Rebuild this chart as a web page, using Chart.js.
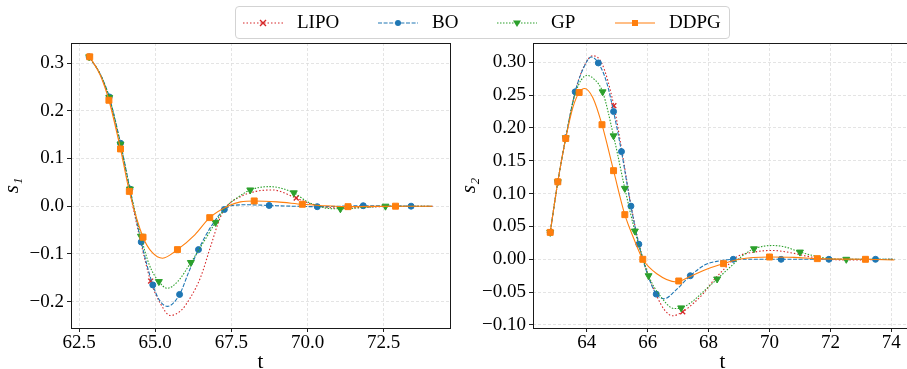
<!DOCTYPE html>
<html><head><meta charset="utf-8">
<script src="https://cdn.jsdelivr.net/npm/chart.js@4/dist/chart.umd.min.js"></script>
<style>
html,body{margin:0;padding:0;background:#fff;overflow:hidden;width:907px;height:369px;position:relative}
canvas{position:absolute;top:0}
#c1{left:0}
#c2{left:457px}
#legend{position:absolute;left:235px;top:6px;width:493px;height:31px;border:1px solid #d3d3d3;border-radius:4px;background:rgba(255,255,255,0.85);font-family:'Liberation Serif',serif;font-size:19px;color:#000;z-index:2}
#legend svg{position:absolute;top:9px}
#legend span{position:absolute;top:4px;line-height:22px}
</style></head>
<body>
<canvas id="c1" width="455" height="375"></canvas>
<canvas id="c2" width="460" height="375"></canvas>
<div id="legend">
  <svg style="left:7px" width="40" height="14"><line x1="0" y1="7" x2="40" y2="7" stroke="#d62728" stroke-width="1.2" stroke-dasharray="1.5 2"/><path d="M17 4 L23 10 M23 4 L17 10" stroke="#d62728" stroke-width="1.4"/></svg>
  <span style="left:61px">LIPO</span>
  <svg style="left:142px" width="40" height="14"><line x1="0" y1="7" x2="40" y2="7" stroke="#1f77b4" stroke-width="1.1" stroke-dasharray="4 1.6"/><circle cx="20" cy="7" r="3" fill="#1f77b4"/></svg>
  <span style="left:196px">BO</span>
  <svg style="left:261px" width="40" height="14"><line x1="0" y1="7" x2="40" y2="7" stroke="#2ca02c" stroke-width="1.1" stroke-dasharray="1.5 1.5"/><path d="M16 4.5 L24 4.5 L20 11 Z" fill="#2ca02c"/></svg>
  <span style="left:315px">GP</span>
  <svg style="left:379px" width="40" height="14"><line x1="0" y1="7" x2="40" y2="7" stroke="#ff7f0e" stroke-width="1.1"/><rect x="17" y="4" width="6" height="6" fill="#ff7f0e"/></svg>
  <span style="left:433px">DDPG</span>
</div>
<script>
// ---------- tick labels ----------
const s1XTicks = [62.5, 65.0, 67.5, 70.0, 72.5];
const s1YTicks = [-0.2, -0.1, 0.0, 0.1, 0.2, 0.3];
const s2XTicks = [64, 66, 68, 70, 72, 74];
const s2YTicks = [-0.10, -0.05, 0.00, 0.05, 0.10, 0.15, 0.20, 0.25, 0.30];
const seriesNames = ['LIPO', 'BO', 'GP', 'DDPG'];

// ---------- s1 (left panel) ----------
const s1LipoT = [62.83, 63.2, 63.48, 63.86, 64.15, 64.5, 64.85, 65.18, 65.49, 65.84, 66.16, 66.49, 66.81, 67.14, 67.35, 67.8, 68.3, 68.85, 69.63, 70.1, 70.6, 71.2, 72.0, 73.0, 74.1];
const s1LipoV = [0.313, 0.276, 0.226, 0.128, 0.035, -0.068, -0.157, -0.205, -0.229, -0.219, -0.191, -0.149, -0.086, -0.023, 0.0, 0.02, 0.031, 0.034, 0.017, 0.005, -0.002, -0.004, -0.002, 0, 0];
const s1LipoMarkT = [62.83, 64.85, 69.63];
const s1LipoMarkV = [0.313, -0.157, 0.017];

const s1BoT = [62.83, 63.2, 63.49, 63.86, 64.17, 64.54, 64.92, 65.15, 65.4, 65.8, 66.1, 66.42, 66.82, 67.27, 67.6, 68.0, 68.74, 69.5, 70.32, 71.83, 73.4, 74.1];
const s1BoV = [0.313, 0.276, 0.229, 0.132, 0.036, -0.075, -0.165, -0.198, -0.21, -0.185, -0.138, -0.091, -0.044, -0.007, 0.002, 0.003, 0.0015, 0.0, -0.001, 0.001, 0, 0];
const s1BoMarkT = [62.83, 63.49, 63.86, 64.17, 64.54, 64.92, 65.8, 66.42, 67.27, 68.74, 70.32, 71.83, 73.4];
const s1BoMarkV = [0.313, 0.229, 0.132, 0.036, -0.075, -0.165, -0.185, -0.091, -0.007, 0.0015, -0.001, 0.001, 0];

const s1GpT = [62.83, 63.2, 63.49, 63.86, 64.17, 64.53, 64.8, 65.12, 65.4, 65.75, 66.17, 66.6, 66.98, 67.35, 67.7, 68.12, 68.76, 69.55, 70.0, 70.3, 70.6, 71.08, 71.8, 72.56, 74.1];
const s1GpV = [0.313, 0.276, 0.228, 0.13, 0.036, -0.063, -0.122, -0.158, -0.172, -0.157, -0.118, -0.074, -0.034, 0.0, 0.018, 0.034, 0.041, 0.028, 0.009, 0.002, -0.004, -0.0055, -0.003, 0, 0];
const s1GpMarkT = [62.83, 63.49, 63.86, 64.17, 64.53, 65.12, 66.17, 66.98, 68.12, 69.55, 71.08, 72.56];
const s1GpMarkV = [0.313, 0.228, 0.13, 0.036, -0.063, -0.158, -0.118, -0.034, 0.034, 0.028, -0.0055, 0];

const s1DdpgT = [62.85, 63.2, 63.48, 63.86, 64.15, 64.6, 64.9, 65.24, 65.73, 66.3, 66.79, 67.45, 67.8, 68.25, 69.0, 69.83, 70.5, 71.33, 72.89, 74.1];
const s1DdpgV = [0.313, 0.274, 0.222, 0.12, 0.031, -0.065, -0.097, -0.109, -0.091, -0.06, -0.024, 0.002, 0.009, 0.011, 0.009, 0.004, 0.001, -0.001, 0, 0];
const s1DdpgMarkT = [62.85, 63.48, 63.86, 64.15, 64.6, 65.73, 66.79, 68.25, 69.83, 71.33, 72.89];
const s1DdpgMarkV = [0.313, 0.222, 0.12, 0.031, -0.065, -0.091, -0.024, 0.011, 0.004, -0.001, 0];

// ---------- s2 (right panel) ----------
const s2LipoT = [62.8, 63.05, 63.31, 63.62, 63.9, 64.2, 64.5, 64.89, 65.15, 65.45, 65.72, 66.0, 66.3, 66.55, 66.82, 67.15, 67.5, 67.81, 68.2, 68.57, 68.9, 69.5, 70.1, 70.7, 71.2, 71.7, 72.5, 74.1];
const s2LipoV = [0.041, 0.118, 0.185, 0.255, 0.293, 0.31, 0.298, 0.234, 0.166, 0.083, 0.022, -0.022, -0.056, -0.077, -0.086, -0.080, -0.067, -0.053, -0.03, -0.012, 0.003, 0.011, 0.0135, 0.01, 0.005, 0.001, -0.001, 0];
const s2LipoMarkT = [62.8, 64.89, 67.15];
const s2LipoMarkV = [0.041, 0.234, -0.080];

const s2BoT = [62.8, 63.05, 63.31, 63.62, 63.9, 64.15, 64.38, 64.65, 64.88, 65.14, 65.45, 65.71, 65.84, 66.05, 66.28, 66.55, 66.9, 67.4, 67.9, 68.35, 68.81, 70.38, 71.95, 73.48, 74.1];
const s2BoV = [0.041, 0.118, 0.185, 0.255, 0.292, 0.308, 0.299, 0.27, 0.225, 0.164, 0.081, 0.023, 0.0, -0.03, -0.053, -0.060, -0.048, -0.025, -0.008, -0.0025, 0, 0, 0, 0, 0];
const s2BoMarkT = [62.8, 63.05, 63.31, 63.62, 64.38, 64.88, 65.14, 65.45, 65.71, 66.28, 67.40, 68.81, 70.38, 71.95, 73.48];
const s2BoMarkV = [0.041, 0.118, 0.185, 0.255, 0.299, 0.225, 0.164, 0.081, 0.023, -0.053, -0.025, 0, 0, 0, 0];

const s2GpT = [62.8, 63.05, 63.31, 63.62, 64.01, 64.25, 64.52, 64.88, 65.25, 65.58, 65.84, 66.03, 66.4, 66.88, 67.10, 67.5, 67.81, 68.28, 68.8, 69.1, 69.49, 70.1, 70.5, 71.0, 71.6, 72.0, 72.52, 74.1];
const s2GpV = [0.041, 0.118, 0.185, 0.252, 0.280, 0.274, 0.255, 0.188, 0.108, 0.043, 0.002, -0.025, -0.055, -0.075, -0.074, -0.063, -0.05, -0.030, -0.008, 0.005, 0.016, 0.021, 0.019, 0.011, 0.004, 0.001, 0, 0];
const s2GpMarkT = [62.8, 63.05, 63.31, 64.52, 64.88, 65.25, 65.58, 66.03, 67.10, 68.28, 69.49, 71.0, 72.52];
const s2GpMarkV = [0.041, 0.118, 0.185, 0.255, 0.188, 0.108, 0.043, -0.025, -0.074, -0.030, 0.016, 0.011, 0];

const s2DdpgT = [62.8, 63.05, 63.31, 63.55, 63.75, 63.93, 64.2, 64.5, 64.88, 65.25, 65.55, 65.84, 66.3, 66.94, 67.4, 68.0, 68.49, 69.0, 70.0, 70.8, 71.57, 73.15, 74.1];
const s2DdpgV = [0.041, 0.118, 0.184, 0.232, 0.254, 0.260, 0.246, 0.205, 0.135, 0.068, 0.031, 0.0, -0.022, -0.0345, -0.026, -0.014, -0.0066, 0.0, 0.0035, 0.003, 0.001, 0, -0.001];
const s2DdpgMarkT = [62.8, 63.05, 63.31, 63.75, 64.5, 64.88, 65.25, 65.84, 67.02, 68.49, 70.0, 71.57, 73.15];
const s2DdpgMarkV = [0.041, 0.118, 0.184, 0.254, 0.205, 0.135, 0.068, 0.0, -0.033, -0.0066, 0.0035, 0.001, 0];

// ---------- styling ----------
const FONT = "'Liberation Serif', 'DejaVu Serif', serif";
const styles = [
  {color: '#d62728', dash: [1.5, 2], point: 'crossRot', radius: 3.5, rot: 0, bw: 1.4},
  {color: '#1f77b4', dash: [4, 1.6], point: 'circle', radius: 3, rot: 0, bw: 1},
  {color: '#2ca02c', dash: [1.5, 1.5], point: 'triangle', radius: 4, rot: 180, bw: 1},
  {color: '#ff7f0e', dash: [], point: 'rect', radius: 4.2, rot: 0, bw: 1}
];

function pts(t, v) { return t.map((x, i) => ({x: x, y: v[i]})); }
function fmt(v, d) { const s = Math.abs(v).toFixed(d); return (v < -1e-9 ? '\u2212' : '') + s; }

function datasets(curves, marks) {
  const out = [];
  curves.forEach((c, i) => {
    const st = styles[i];
    out.push({
      label: seriesNames[i], data: pts(c[0], c[1]), showLine: true,
      borderColor: st.color, borderWidth: 1.1, borderDash: st.dash,
      pointRadius: 0, tension: 0.4, cubicInterpolationMode: 'monotone', fill: false,
      order: (3 - i) * 2 + 1
    });
    out.push({
      label: seriesNames[i] + ' markers', data: pts(marks[i][0], marks[i][1]), showLine: false,
      pointStyle: st.point, pointRadius: st.radius, pointRotation: st.rot,
      backgroundColor: st.color, borderColor: st.color, borderWidth: st.bw,
      order: (3 - i) * 2
    });
  });
  return out;
}

const framePlugin = {
  id: 'frame',
  afterDraw(chart) {
    const {ctx, chartArea: a} = chart;
    ctx.save();
    ctx.strokeStyle = '#1a1a1a';
    ctx.lineWidth = 1;
    ctx.strokeRect(Math.round(a.left) + 0.5, Math.round(a.top) + 0.5, Math.round(a.right - a.left), Math.round(a.bottom - a.top));
    ctx.restore();
  }
};

function makeChart(id, curves, marks, xTicks, yTicks, xDec, yDec, xr, yr, yTitle, yWidth) {
  const tickFont = {family: FONT, size: 19};
  const gridCommon = {color: '#dddddd', lineWidth: 0.8, tickLength: 4, tickColor: '#222', tickWidth: 1, tickBorderDash: []};
  return new Chart(document.getElementById(id), {
    type: 'scatter',
    data: {datasets: datasets(curves, marks)},
    options: {
      responsive: false, animation: false, devicePixelRatio: 1,
      layout: {padding: {top: 43, right: 4, left: 0, bottom: 0}},
      plugins: {legend: {display: false}, tooltip: {enabled: false}},
      scales: {
        x: {
          type: 'linear', min: xr[0], max: xr[1],
          afterBuildTicks: s => { s.ticks = xTicks.map(v => ({value: v})); },
          afterFit: s => { s.height = 47; },
          ticks: {callback: v => fmt(v, xDec), font: tickFont, color: '#000', padding: 0, autoSkip: false, maxRotation: 0},
          grid: gridCommon,
          border: {display: false, dash: [3, 2]},
          title: {display: true, text: 't', font: {family: FONT, size: 21}, color: '#000', padding: 0}
        },
        y: {
          type: 'linear', min: yr[0], max: yr[1],
          afterBuildTicks: s => { s.ticks = yTicks.map(v => ({value: v})); },
          afterFit: s => { s.width = yWidth; },
          ticks: {callback: v => fmt(v, yDec), font: tickFont, color: '#000', padding: 3, autoSkip: false},
          grid: gridCommon,
          border: {display: false, dash: [3, 2]},
          title: {display: true, text: yTitle, font: {family: FONT, size: 21, style: 'italic'}, color: '#000', padding: {top: 0, bottom: 0}}
        }
      }
    },
    plugins: [framePlugin]
  });
}

makeChart('c1',
  [[s1LipoT, s1LipoV], [s1BoT, s1BoV], [s1GpT, s1GpV], [s1DdpgT, s1DdpgV]],
  [[s1LipoMarkT, s1LipoMarkV], [s1BoMarkT, s1BoMarkV], [s1GpMarkT, s1GpMarkV], [s1DdpgMarkT, s1DdpgMarkV]],
  s1XTicks, s1YTicks, 1, 1, [62.235, 74.665], [-0.2553, 0.342], 's\u2081', 71);

makeChart('c2',
  [[s2LipoT, s2LipoV], [s2BoT, s2BoV], [s2GpT, s2GpV], [s2DdpgT, s2DdpgV]],
  [[s2LipoMarkT, s2LipoMarkV], [s2BoMarkT, s2BoMarkV], [s2GpMarkT, s2GpMarkV], [s2DdpgMarkT, s2DdpgMarkV]],
  s2XTicks, s2YTicks, 0, 2, [62.235, 74.665], [-0.1046, 0.3294], 's\u2082', 76);
</script>
</body></html>
